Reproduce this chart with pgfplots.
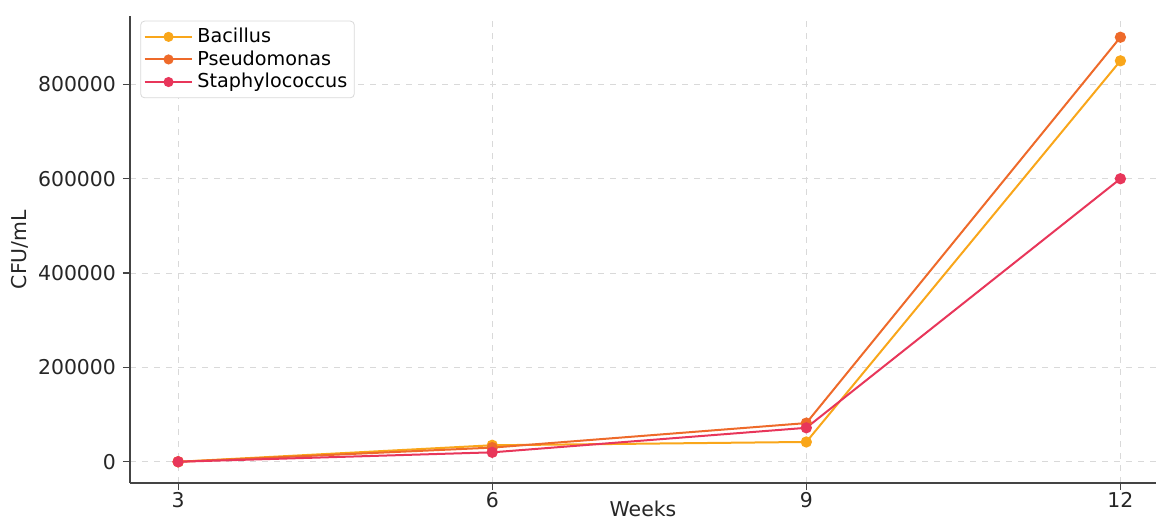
\documentclass[border=0pt]{standalone}
\usepackage{pgfplots}
\pgfplotsset{compat=1.18}
\usepackage{fontspec}
\setmainfont{DejaVu Sans}

\definecolor{bac}{HTML}{F9A61A}
\definecolor{pse}{HTML}{EE6A2A}
\definecolor{sta}{HTML}{E8365A}
\definecolor{spine}{HTML}{444444}

\begin{document}
\begin{tikzpicture}
\begin{axis}[
    scale only axis,
    width=513pt, height=233.5pt,
    xmin=2.54, xmax=12.34,
    ymin=-45000, ymax=945000,
    axis x line*=bottom, axis y line*=left,
    axis line style={spine, line width=0.8pt, -},
    xtick={3,6,9,12},
    ytick={0,200000,400000,600000,800000},
    scaled y ticks=false,
    yticklabel style={/pgf/number format/fixed, /pgf/number format/1000 sep={}},
    /pgf/number format/assume math mode=true,
    tick align=outside,
    major tick length=3.5pt,
    tick style={spine, line width=0.6pt},
    ticklabel style={font=\fontsize{10.2}{12}\selectfont, text=black!85},
    xticklabel style={yshift=2.5pt},
    grid=major,
    grid style={dashed, gray!30, line width=0.5pt},
    xlabel={Weeks},
    ylabel={CFU/mL},
    label style={font=\fontsize{10.2}{12}\selectfont, text=black!85},
    xlabel style={yshift=10pt},
    ylabel style={yshift=-2pt},
    legend cell align=left,
    legend style={font=\fontsize{9.6}{12}\selectfont, draw=gray!30, rounded corners=2pt,
        at={(0.01,0.99)}, anchor=north west, inner sep=1.5pt, row sep=-1.5pt},
    legend image code/.code={
        \draw[mark repeat=2, mark phase=2, mark size=2pt]
            plot coordinates {(0cm,0cm) (0.42cm,0cm) (0.84cm,0cm)};
    },
    every axis plot/.append style={line width=1pt, mark=*, mark size=2.3pt},
]
\addplot[color=bac, mark options={fill=bac, draw=bac}] coordinates {
    (3,0) (6,35000) (9,42000) (12,850000)
};
\addlegendentry{Bacillus}
\addplot[color=pse, mark options={fill=pse, draw=pse}] coordinates {
    (3,0) (6,30000) (9,82000) (12,900000)
};
\addlegendentry{Pseudomonas}
\addplot[color=sta, mark options={fill=sta, draw=sta}] coordinates {
    (3,0) (6,20000) (9,72000) (12,600000)
};
\addlegendentry{Staphylococcus}
\end{axis}
\pgfresetboundingbox
\path ([xshift=-65pt,yshift=-20.5pt]current axis.south west)
    rectangle ([yshift=8pt]current axis.north east);
\end{tikzpicture}
\end{document}
